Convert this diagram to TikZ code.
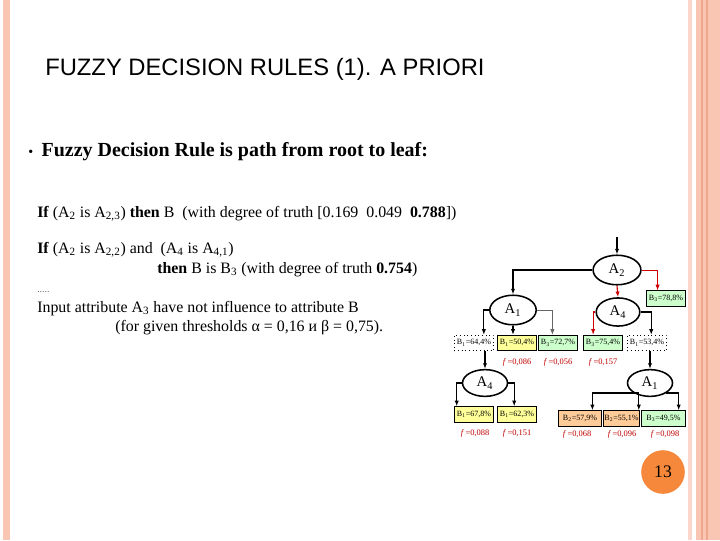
\documentclass[tikz,border=0pt]{standalone}
\usepackage{fontspec}
\setmainfont{Liberation Serif}
\setsansfont{Liberation Sans}
\usetikzlibrary{positioning, arrows.meta, shapes.geometric, calc}
\definecolor{cPink}{HTML}{F8C6B3}
\definecolor{cPinkD}{HTML}{EFA88C}
\definecolor{cOrange}{HTML}{F5883A}
\definecolor{cYellow}{HTML}{FFFF99}
\definecolor{cGreen}{HTML}{CCFFCC}
\definecolor{cPeach}{HTML}{FFCC99}
\definecolor{cRed}{HTML}{C00000}

\begin{document}
\begin{tikzpicture}[
    x=0.025cm, y=-0.025cm,
    >={Latex[length=4pt,width=3pt]},
    ell/.style={
        ellipse, draw, fill=white, line width=1.1pt, inner sep=0pt,
        minimum width=34pt, minimum height=21pt, font=\fontsize{10.5}{12}\selectfont
    },
    leaf/.style={
        draw, line width=0.6pt, inner sep=0pt, minimum width=28pt,
        minimum height=11pt, font=\fontsize{5.7}{7}\selectfont
    },
    yb/.style={leaf, fill=cYellow},
    gb/.style={leaf, fill=cGreen},
    ob/.style={leaf, fill=cPeach},
    db/.style={leaf, dotted, fill=white},
    fval/.style={font=\fontsize{6}{7}\selectfont, text=cRed, inner sep=0pt},
    arr/.style={->, line width=0.8pt, draw=black},
    tharr/.style={->, line width=1.3pt, draw=black},
    larr/.style={->, line width=0.5pt, draw=black!60},
    rarr/.style={->, line width=0.8pt, draw=red!80!black},
    lrarr/.style={->, line width=0.5pt, draw=red!80!black},
    txt/.style={anchor=base west, inner sep=0pt, font=\fontsize{11.3}{13}\selectfont},
]

% =============================================
% SLIDE FRAME
% =============================================
\fill[white] (0,0) rectangle (720,540);
\useasboundingbox (0,0) rectangle (720,540);

\fill[cPink] (3,0) rectangle (10,540);
\fill[cPink!70] (688,0) rectangle (692,540);
\fill[cPink] (696,0) rectangle (720,540);
\draw[cPinkD, line width=0.8pt] (702,0) -- (702,540);
\draw[cPinkD, line width=0.8pt] (707,0) -- (707,540);

% =============================================
% TITLE + TEXT
% =============================================
\node[anchor=base west, inner sep=0pt, font=\sffamily\fontsize{16.9}{20}\selectfont]
    (title) at (45,75) {FUZZY DECISION RULES (1). A PRIORI};

\node[anchor=base west, inner sep=0pt, font=\fontsize{14.2}{16}\selectfont] (bul) at (28,156)
    {{\fontsize{10}{10}\selectfont\textbullet}\hspace{6pt}\textbf{Fuzzy Decision Rule is path from root to leaf:}};

\node[txt] (r1) at (37,217) {\textbf{If} (A\textsubscript{2} is A\textsubscript{2,3}) \textbf{then} B\ \ (with degree of truth [0.169\ \ 0.049\ \ \textbf{0.788}])};
\node[txt] (r2) at (37,253) {\textbf{If} (A\textsubscript{2} is A\textsubscript{2,2}) and\ \ (A\textsubscript{4} is A\textsubscript{4,1})};
\node[txt] (r3) at (157,273) {\textbf{then} B is B\textsubscript{3} (with degree of truth \textbf{0.754})};
\node[txt, font=\fontsize{7}{8}\selectfont, text=black!60] (dots) at (37,292) {.....};
\node[txt] (r4) at (37,312) {Input attribute A\textsubscript{3} have not influence to attribute B};
\node[txt] (r5) at (115,331) {(for given thresholds α = 0,16 и β = 0,75).};

% =============================================
% DECISION TREE
% =============================================
\coordinate (entry) at (617,237);
\node[ell] (A2) at (617,270) {A\textsubscript{2}};
\node[ell, minimum width=33pt] (A1u) at (513,310) {A\textsubscript{1}};
\node[ell, minimum width=31pt, minimum height=20pt] (A4u) at (618,312) {A\textsubscript{4}};
\node[gb] (b788) at (666,298.5) {B\textsubscript{3}=78,8\%};

% first row of leaves
\node[db] (b644) at (474,343) {B\textsubscript{1}=64,4\%};
\node[yb] (b504) at (517,343) {B\textsubscript{1}=50,4\%};
\node[gb] (b727) at (558,343) {B\textsubscript{3}=72,7\%};
\node[gb] (b754) at (603,343) {B\textsubscript{3}=75,4\%};
\node[db] (b534) at (647,343) {B\textsubscript{1}=53,4\%};

\node[fval] (f504) at (517,362) {\textit{f}\,=0,086};
\node[fval] (f727) at (558,362) {\textit{f}\,=0,056};
\node[fval] (f754) at (603,362) {\textit{f}\,=0,157};

% second level
\node[ell, minimum width=32pt, minimum height=19pt] (A4l) at (485,383) {A\textsubscript{4}};
\node[ell, minimum width=32pt, minimum height=19pt] (A1l) at (650,383) {A\textsubscript{1}};

\node[yb] (b678) at (474,414.5) {B\textsubscript{1}=67,8\%};
\node[yb] (b623) at (517,414.5) {B\textsubscript{1}=62,3\%};
\node[ob, minimum width=31pt] (b579) at (580,418.5) {B\textsubscript{2}=57,9\%};
\node[ob, minimum width=26pt] (b551) at (621.5,418.5) {B\textsubscript{2}=55,1\%};
\node[gb, minimum width=31pt] (b495) at (663.5,418.5) {B\textsubscript{3}=49,5\%};

\node[fval] (f678) at (475,433) {\textit{f}\,=0,088};
\node[fval] (f623) at (517,433) {\textit{f}\,=0,151};
\node[fval] (f579) at (577,434) {\textit{f}\,=0,068};
\node[fval] (f551) at (622,434) {\textit{f}\,=0,096};
\node[fval] (f495) at (665,434) {\textit{f}\,=0,098};

% connectors
\draw[arr] (entry) -- (A2.north);
\draw[tharr] (A2.west) -| (A1u.north);
\draw[rarr] (A2.south) -- (A4u.north);
\draw[lrarr] (A2.east) -| ([xshift=-6pt]b788.north);

\draw[arr] (A1u.west) -| ([xshift=7pt]b644.north);
\draw[tharr] (A1u.south) -- (A1u.south |- b504.north);
\draw[larr] (A1u.east) -| ([xshift=-4pt]b727.north);
\draw[rarr] (A4u.west) -| ([xshift=-7pt]b754.north);
\draw[arr] (A4u.east) -| ([xshift=3pt]b534.north);

\draw[arr] (b644.south -| A4l.north) -- (A4l.north);
\draw[arr] (b534.south -| A1l.north) -- (A1l.north);

\draw[arr] (A4l.west) -| ([xshift=2pt]b678.north west);
\draw[arr] (A4l.east) -| ([xshift=-2pt]b623.north);
\draw[arr] (A1l.south west) -| ([xshift=-7pt]b579.north east);
\draw[arr] (A1l.south west) -| ([xshift=-1pt]b551.north east);
\draw[arr] (A1l.south east) -| ([xshift=-5pt]b495.north east);

% page number
\node[circle, fill=cOrange, minimum size=31pt, inner sep=0pt, font=\fontsize{12.5}{14}\selectfont]
    (pg) at (663,472) {13};

\end{tikzpicture}
\end{document}
